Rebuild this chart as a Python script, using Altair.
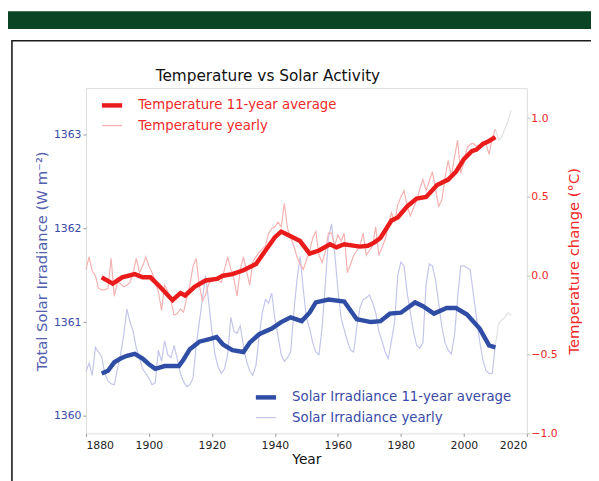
import altair as alt
import pandas as pd

# ---------------- data ----------------
years = list(range(1880, 2016))

temp_yearly = [
    0.04, 0.12, 0.03, 0.00, -0.08, -0.09, -0.09, -0.08, 0.11, -0.13,   # 1880s
    -0.04, -0.05, -0.07, -0.06, -0.04, 0.02, 0.11, 0.02, 0.06, 0.12,   # 1890s
    0.06, 0.02, -0.04, -0.10, -0.22, -0.06, -0.10, -0.16, -0.25, -0.24,  # 1900s
    -0.21, -0.23, -0.14, -0.06, 0.06, 0.11, -0.06, -0.16, -0.12, -0.05,  # 1910s
    -0.02, -0.02, -0.03, -0.04, 0.04, 0.12, 0.04, -0.02, -0.13, 0.04,  # 1920s
    0.12, 0.03, -0.06, 0.09, 0.12, 0.15, 0.17, 0.19, 0.27, 0.30,       # 1930s
    0.31, 0.34, 0.31, 0.46, 0.30, 0.24, 0.19, 0.12, 0.075, 0.04,       # 1940s
    0.10, 0.15, 0.24, 0.28, 0.13, 0.085, 0.15, 0.27, 0.27, 0.19,       # 1950s
    0.26, 0.22, 0.27, 0.02, 0.07, 0.13, 0.16, 0.19, 0.27, 0.13,        # 1960s
    0.16, 0.19, 0.31, 0.13, 0.18, 0.23, 0.32, 0.40, 0.34, 0.45,        # 1970s
    0.50, 0.54, 0.44, 0.38, 0.43, 0.48, 0.55, 0.61, 0.54, 0.60,        # 1980s
    0.66, 0.55, 0.44, 0.48, 0.62, 0.73, 0.63, 0.75, 0.86, 0.65,        # 1990s
    0.72, 0.81, 0.835, 0.84, 0.82, 0.83, 0.855, 0.84, 0.77, 0.875,     # 2000s
    0.93, 0.86, 0.88, 0.93, 0.98, 1.05,                                # 2010-2015
]

solar_yearly = [
    1360.47, 1360.56, 1360.43, 1360.73, 1360.68, 1360.63, 1360.45, 1360.37, 1360.34, 1360.33,
    1360.50, 1360.65, 1360.86, 1361.14, 1361.00, 1360.90, 1360.72, 1360.62, 1360.50, 1360.45,
    1360.40, 1360.33, 1360.35, 1360.70, 1360.58, 1360.80, 1360.65, 1360.62, 1360.75, 1360.61,
    1360.45, 1360.36, 1360.31, 1360.33, 1360.40, 1360.75, 1361.00, 1361.25, 1361.50, 1361.21,
    1360.90, 1360.65, 1360.52, 1360.45, 1360.50, 1360.65, 1361.05, 1360.90, 1360.88, 1360.96,
    1360.75, 1360.58, 1360.48, 1360.43, 1360.54, 1360.85, 1361.10, 1361.24, 1361.20, 1361.31,
    1361.03, 1360.85, 1360.65, 1360.58, 1360.62, 1360.68, 1361.10, 1361.45, 1361.70, 1361.35,
    1361.05, 1360.93, 1360.78, 1360.68, 1360.65, 1360.95, 1361.40, 1361.90, 1362.05, 1361.73,
    1361.35, 1361.05, 1360.92, 1360.80, 1360.70, 1360.68, 1360.95, 1361.15, 1361.24, 1361.26,
    1361.29, 1361.21, 1361.10, 1360.90, 1360.80, 1360.68, 1360.61, 1360.80, 1361.00, 1361.50,
    1361.64, 1361.60, 1361.31, 1361.10, 1360.90, 1360.75, 1360.72, 1360.78, 1361.40, 1361.62,
    1361.60, 1361.45, 1361.20, 1360.95, 1360.78, 1360.70, 1360.66, 1360.85, 1361.25, 1361.60,
    1361.60, 1361.58, 1361.56, 1361.30, 1361.05, 1360.80, 1360.60, 1360.48, 1360.45, 1360.45,
    1360.75, 1360.98, 1361.02, 1361.05, 1361.10, 1361.07,
]

temp_avg_years = [1885, 1888.5, 1891.5, 1895.5, 1898, 1900.5, 1903.5, 1907.5, 1910, 1911.5,
                  1914.5, 1918, 1921.5, 1923.5, 1926.5, 1930, 1934, 1937, 1940, 1942,
                  1945, 1948, 1951, 1954, 1957.5, 1959.5, 1962, 1967, 1969.5, 1971.5,
                  1973.5, 1977, 1979, 1982, 1985, 1988, 1991.5, 1995, 1997.5, 2000,
                  2002.5, 2004, 2006, 2008, 2010]
temp_avg = [-0.01, -0.05, -0.01, 0.01, -0.01, -0.01, -0.07, -0.155, -0.11, -0.125,
            -0.07, -0.03, -0.02, 0.0, 0.01, 0.035, 0.075, 0.16, 0.245, 0.28,
            0.25, 0.22, 0.14, 0.16, 0.20, 0.18, 0.20, 0.185, 0.19, 0.21,
            0.24, 0.35, 0.37, 0.44, 0.49, 0.50, 0.575, 0.61, 0.66, 0.74,
            0.79, 0.80, 0.835, 0.855, 0.88]

solar_avg_years = [1885, 1887, 1889, 1891, 1893, 1895.5, 1898, 1900, 1902, 1905,
                   1909.5, 1911, 1913, 1916, 1919.5, 1921.5, 1923.5, 1926.5, 1930, 1932,
                   1935, 1939, 1942, 1945, 1948.5, 1951, 1953, 1957, 1962, 1966,
                   1970.5, 1973.5, 1976.5, 1980, 1984.5, 1987, 1990.5, 1994.5, 1997.5, 2001,
                   2005, 2008, 2010]
solar_avg = [1360.45, 1360.48, 1360.57, 1360.61, 1360.64, 1360.66, 1360.61, 1360.55, 1360.50, 1360.53,
             1360.53, 1360.60, 1360.71, 1360.79, 1360.82, 1360.84, 1360.76, 1360.70, 1360.68, 1360.78,
             1360.87, 1360.93, 1361.00, 1361.05, 1361.01, 1361.10, 1361.21, 1361.24, 1361.22, 1361.03,
             1361.00, 1361.01, 1361.09, 1361.10, 1361.21, 1361.17, 1361.09, 1361.15, 1361.15, 1361.08,
             1360.93, 1360.75, 1360.73]

x_ticks = [1880, 1900, 1920, 1940, 1960, 1980, 2000, 2020]
solar_ticks = [1360, 1361, 1362, 1363]
temp_ticks = [-1.0, -0.5, 0.0, 0.5, 1.0]

T_AVG, T_YR = "Temperature 11-year average", "Temperature yearly"
S_AVG, S_YR = "Solar Irradiance 11-year average", "Solar Irradiance yearly"

# ---------------- tables ----------------
temp_yr_df = pd.DataFrame({"year": years, "value": temp_yearly, "series": T_YR})
temp_avg_df = pd.DataFrame({"year": temp_avg_years, "value": temp_avg, "series": T_AVG})
solar_yr_df = pd.DataFrame({"year": years, "value": solar_yearly, "series": S_YR})
solar_avg_df = pd.DataFrame({"year": solar_avg_years, "value": solar_avg, "series": S_AVG})

FONT = "DejaVu Sans"
RED, RED_PALE, RED_TXT = "#ea1b1b", "#f6b2b2", "#f02a2a"
BLUE, BLUE_PALE, BLUE_TXT = "#2f4da5", "#c3c6ea", "#3a4aa8"
GREY_PALE = "#e2e2e2"

x_enc = alt.X(
    "year:Q",
    scale=alt.Scale(domain=[1880, 2020], nice=False, zero=False),
    axis=alt.Axis(values=x_ticks, format="d", title="Year", labelFont=FONT, labelFontSize=11,
                  labelColor="#222", titleFont=FONT, titleFontSize=14, titleFontWeight="normal",
                  titleColor="#111", domain=False, tickColor="#999", tickSize=3, labelPadding=3,
                  titlePadding=3, grid=False),
)

solar_y = alt.Y(
    "value:Q",
    scale=alt.Scale(domain=[1359.81, 1363.5], nice=False, zero=False),
    axis=alt.Axis(orient="left", values=solar_ticks, format="d",
                  title="Total Solar Irradiance (W m⁻²)", labelFont=FONT, labelFontSize=11,
                  labelColor=BLUE_TXT, titleFont=FONT, titleFontSize=15, titleFontWeight="normal",
                  titleColor="#5360ad", domain=False, tickColor="#999", tickSize=3,
                  labelPadding=2, titlePadding=4, grid=False),
)

temp_y = alt.Y(
    "value:Q",
    scale=alt.Scale(domain=[-1.0, 1.19], nice=False, zero=False),
    axis=alt.Axis(orient="right", values=temp_ticks, format=".1f",
                  title="Temperature change (°C)", titleAngle=270, titleBaseline="top",
                  labelFont=FONT, labelFontSize=11,
                  labelColor=RED_TXT, titleFont=FONT, titleFontSize=15, titleFontWeight="normal",
                  titleColor=RED_TXT, domain=False, tickColor="#bbb", tickSize=3,
                  labelPadding=1, titlePadding=10, grid=False),
)

temp_legend = alt.Legend(orient="none", legendX=14, legendY=5, labelColor=RED_TXT,
                         labelFont=FONT, labelFontSize=13.5, labelLimit=400, symbolType="stroke",
                         symbolSize=420, labelOffset=14, rowPadding=0, padding=0)
solar_legend = alt.Legend(orient="none", legendX=170, legendY=301, labelColor=BLUE_TXT,
                          labelFont=FONT, labelFontSize=13.5, labelLimit=400, symbolType="stroke",
                          symbolSize=420, labelOffset=14, rowPadding=0, padding=0)

def series_color(domain, rng, legend):
    return alt.Color("series:O", title=None, scale=alt.Scale(domain=domain, range=rng), legend=legend)

def series_width(domain, legend):
    return alt.StrokeWidth("series:O", title=None, scale=alt.Scale(domain=domain, range=[4.5, 1.2]),
                           legend=legend)

t_dom, s_dom = [T_AVG, T_YR], [S_AVG, S_YR]

temp_layer = alt.layer(
    alt.Chart(temp_yr_df).transform_filter("datum.year >= 2010").mark_line(
        color=GREY_PALE, strokeWidth=1.2).encode(x=x_enc, y=temp_y),
    alt.Chart(temp_yr_df).transform_filter("datum.year <= 2010").mark_line().encode(
        x=x_enc, y=temp_y,
        color=series_color(t_dom, [RED, RED_PALE], temp_legend),
        strokeWidth=series_width(t_dom, temp_legend)),
    alt.Chart(temp_avg_df).mark_line().encode(
        x=x_enc, y=temp_y,
        color=series_color(t_dom, [RED, RED_PALE], temp_legend),
        strokeWidth=series_width(t_dom, temp_legend)),
)

solar_layer = alt.layer(
    alt.Chart(solar_yr_df).transform_filter("datum.year >= 2010").mark_line(
        color=GREY_PALE, strokeWidth=1.2).encode(x=x_enc, y=solar_y),
    alt.Chart(solar_yr_df).transform_filter("datum.year <= 2010").mark_line().encode(
        x=x_enc, y=solar_y,
        color=series_color(s_dom, [BLUE, BLUE_PALE], solar_legend),
        strokeWidth=series_width(s_dom, solar_legend)),
    alt.Chart(solar_avg_df).mark_line().encode(
        x=x_enc, y=solar_y,
        color=series_color(s_dom, [BLUE, BLUE_PALE], solar_legend),
        strokeWidth=series_width(s_dom, solar_legend)),
)

# page decoration: green band and framed panel
deco_df = pd.DataFrame({"k": [0]})
band = alt.Chart(deco_df).mark_rect(color="#0a4424").encode(
    x=alt.value(-80), x2=alt.value(620), y=alt.value(-78), y2=alt.value(-60))
frame = alt.Chart(deco_df).mark_rect(fillOpacity=0, stroke="#1a1a1a", strokeWidth=1.6).encode(
    x=alt.value(-75), x2=alt.value(640), y=alt.value(-48), y2=alt.value(460))

chart = alt.layer(band, frame, solar_layer, temp_layer).resolve_scale(
    y="independent", color="independent", strokeWidth="independent"
).properties(
    width=447, height=350,
    padding={"left": 79, "top": 78, "right": 65, "bottom": 45},
    autosize="none",
    title=alt.TitleParams("Temperature vs Solar Activity", font=FONT, fontSize=15.5,
                          fontWeight="normal", color="#111", anchor="middle", frame="group",
                          baseline="alphabetic", offset=0, dx=-39, dy=86),
).configure_view(stroke="#444", strokeWidth=1.5).configure(background="white")

chart.save("out.html", embed_options={"renderer": "svg", "actions": False})
